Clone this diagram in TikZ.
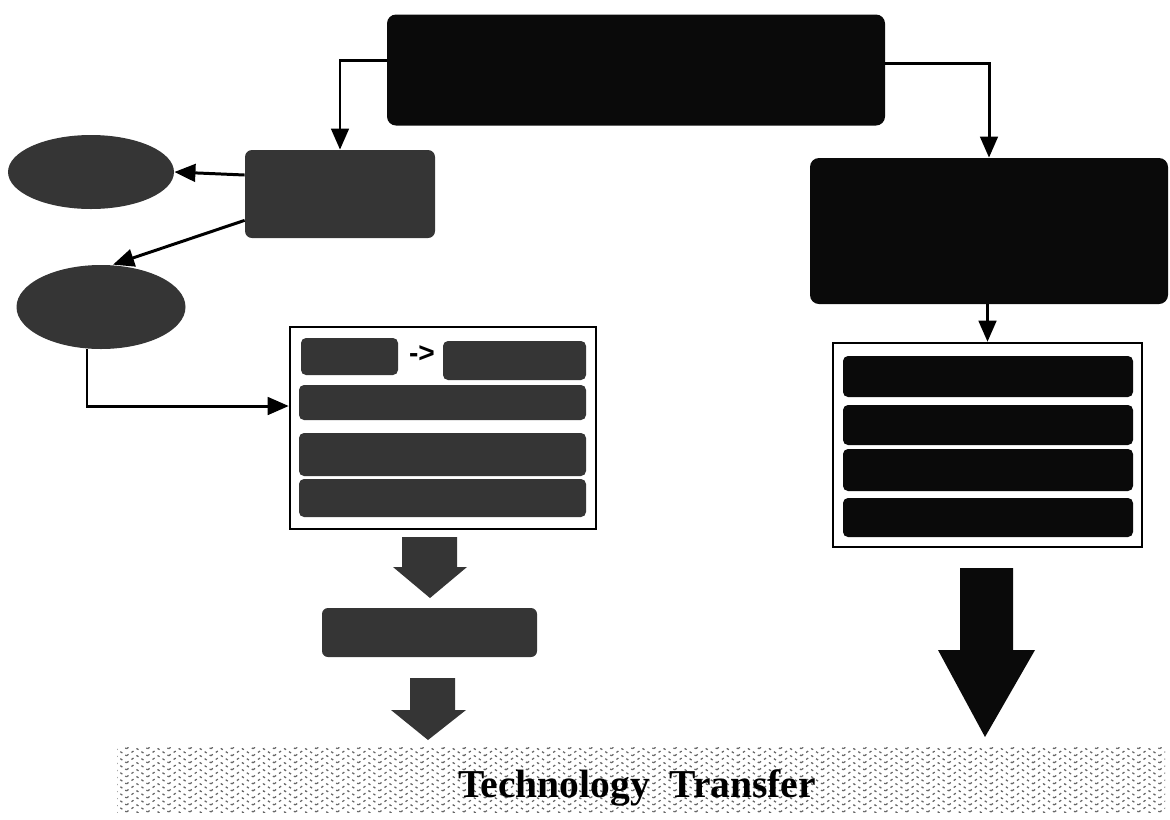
\documentclass[tikz,border=0pt]{standalone}
\usepackage{fontspec}
\setmainfont{Liberation Serif}
\newfontfamily\arrowfont{Liberation Sans}
\usetikzlibrary{shapes.geometric,arrows.meta,patterns,patterns.meta}
\newcommand\pxu{0.02cm}
\definecolor{dkgray}{HTML}{353535}
\definecolor{nearblack}{HTML}{0A0A0A}
\tikzdeclarepattern{
  name=zigdots, type=uncolored,
  bottom left={(-1pt,-1pt)}, top right={(13pt,9pt)}, tile size={(12pt,8pt)},
  code={\draw[line width=0.7pt, dash pattern=on 1.4pt off 2pt] (0pt,0pt) -- (6pt,4pt) -- (12pt,0pt);
        \draw[line width=0.7pt, dash pattern=on 1.4pt off 2pt] (0pt,4pt) -- (6pt,8pt) -- (12pt,4pt);}
}
\tikzset{
  blackbox/.style={draw=none, fill=nearblack, rounded corners=0.18cm, inner sep=0pt},
  graybox/.style={draw=none, fill=dkgray, rounded corners=0.14cm, inner sep=0pt},
  rowbox/.style={draw=none, rounded corners=0.1cm, inner sep=0pt},
  grayoval/.style={ellipse, draw=none, fill=dkgray, inner sep=0pt},
  listbox/.style={draw=black, line width=1.4pt, fill=white, inner sep=0pt},
  conn/.style={draw=black, line width=1.7pt, -{Triangle[length=12pt,width=10pt]}},
}
\begin{document}
\begin{tikzpicture}[x=0.02cm, y=-0.02cm]
\useasboundingbox (0,0) rectangle (1170,819);

% top box
\node[blackbox, minimum width=498*\pxu, minimum height=111*\pxu] (top) at (636,70) {};

% left branch
\node[graybox, minimum width=190*\pxu, minimum height=88*\pxu] (lb) at (340,194) {};
\node[grayoval, minimum width=166*\pxu, minimum height=74*\pxu] (e1) at (91,172) {};
\node[grayoval, minimum width=169*\pxu, minimum height=84*\pxu] (e2) at (101,307) {};

% left list
\node[listbox, minimum width=306*\pxu, minimum height=202*\pxu] (ll) at (443,428) {};
\node[rowbox, fill=dkgray, minimum width=97*\pxu, minimum height=37*\pxu] (l1a) at (349.5,356.5) {};
\node[inner sep=0pt, font=\arrowfont\fontsize{16}{16}\selectfont\bfseries] (arr) at (422,354) {->};
\node[rowbox, fill=dkgray, minimum width=143*\pxu, minimum height=39*\pxu] (l1b) at (514.5,360.5) {};
\node[rowbox, fill=dkgray, minimum width=287*\pxu, minimum height=35*\pxu] (l2) at (442.5,402.5) {};
\node[rowbox, fill=dkgray, minimum width=287*\pxu, minimum height=43*\pxu] (l3) at (442.5,454.5) {};
\node[rowbox, fill=dkgray, minimum width=287*\pxu, minimum height=38*\pxu] (l4) at (442.5,498) {};

% fat arrow 1
\fill[dkgray] (402,537) -- (457,537) -- (457,567) -- (467,567) -- (430,598) -- (393,567) -- (402,567) -- cycle;
% box below
\node[graybox, rounded corners=0.12cm, minimum width=215*\pxu, minimum height=49*\pxu] (lres) at (429.5,632.5) {};
% fat arrow 2
\fill[dkgray] (410,678) -- (455,678) -- (455,710) -- (466,710) -- (428,740) -- (391,710) -- (410,710) -- cycle;

% right branch
\node[blackbox, minimum width=358*\pxu, minimum height=146*\pxu] (rb) at (989,231) {};
\node[listbox, minimum width=309*\pxu, minimum height=204*\pxu] (rl) at (987.5,445) {};
\node[rowbox, fill=nearblack, minimum width=290*\pxu, minimum height=41*\pxu] (r1) at (988,376.5) {};
\node[rowbox, fill=nearblack, minimum width=290*\pxu, minimum height=40*\pxu] (r2) at (988,425) {};
\node[rowbox, fill=nearblack, minimum width=290*\pxu, minimum height=42*\pxu] (r3) at (988,470) {};
\node[rowbox, fill=nearblack, minimum width=290*\pxu, minimum height=39*\pxu] (r4) at (988,517.5) {};

% right fat arrow
\fill[nearblack] (960,568) -- (1013,568) -- (1013,650) -- (1035,650) -- (985,737) -- (938,650) -- (960,650) -- cycle;

% bottom band
\fill[pattern=zigdots, pattern color=black!60] (117,747) rectangle (1165,812);
\node[inner sep=0pt, anchor=base, font=\fontsize{22.5}{24}\selectfont\bfseries] (tt) at (637,797) {Technology\ \ Transfer};

% connectors
\draw[conn] ([yshift=0.2cm]top.west) -| (lb.north);
\draw[conn] ([yshift=0.14cm]top.east) -| (rb.north);
\draw[conn] (rb.south -| rl.north) -- (rl.north);
\draw[conn] ([yshift=0.38cm]lb.west) -- (e1.east);
\draw[conn] ([yshift=0.36cm]lb.south west) -- ([xshift=0.24cm]e2.north);
\draw[conn] ([xshift=-0.28cm]e2.south) |- ([yshift=0.44cm]ll.west);
\end{tikzpicture}
\end{document}
